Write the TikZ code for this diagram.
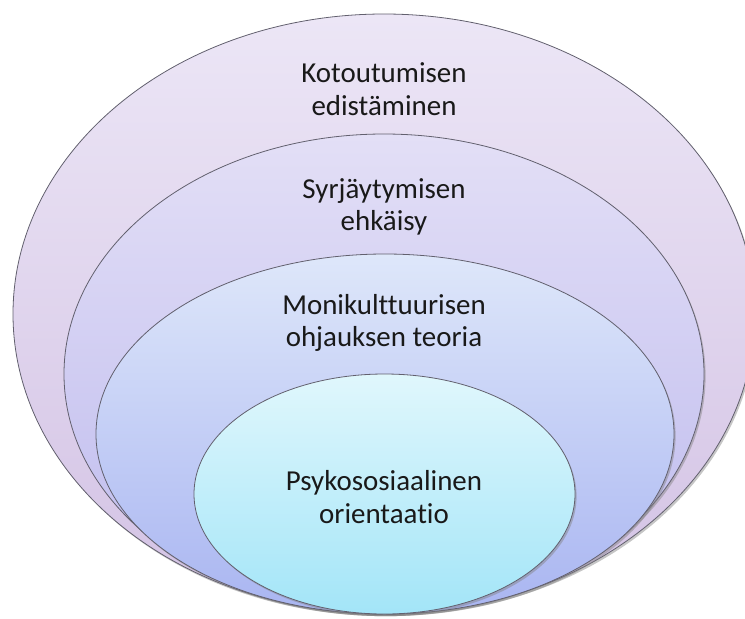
\documentclass[tikz,border=0pt]{standalone}
\usepackage{fontspec}
\setmainfont{Carlito}[Ligatures=NoCommon]
\usetikzlibrary{shapes.geometric,shadows,positioning}

\definecolor{ringline}{HTML}{62606E}
\definecolor{kotoTop}{HTML}{ECE6F6}
\definecolor{kotoBot}{HTML}{D3C2E4}
\definecolor{syrjTop}{HTML}{E3DFF6}
\definecolor{syrjBot}{HTML}{BDBAEE}
\definecolor{moniTop}{HTML}{DEE7FA}
\definecolor{moniBot}{HTML}{A9B5F1}
\definecolor{psykTop}{HTML}{E0F7FC}
\definecolor{psykBot}{HTML}{A3E5F8}

\begin{document}
\begin{tikzpicture}[
  x=0.75pt, y=-0.75pt,
  every node/.style={inner sep=0pt, outer sep=0pt},
  ring/.style n args={4}{ellipse, draw=ringline, line width=0.6pt,
    minimum width=#1*1.5pt, minimum height=#2*1.5pt,
    top color=#3, bottom color=#4,
    drop shadow={shadow xshift=1.2pt, shadow yshift=-1.6pt, opacity=0.45}},
  caption/.style={align=center, font=\fontsize{21.7}{24.3}\selectfont, text=black!90},
  ]
  \useasboundingbox (0,0) rectangle (745,618);
  \clip (0,0) rectangle (745,618);

  % nested rings, outermost first
  \node[ring={371}{300}{kotoTop}{kotoBot}] (koto) at (384,314) {};
  \node[ring={320}{240}{syrjTop}{syrjBot}] (syrj) at (384,374) {};
  \node[ring={289}{180}{moniTop}{moniBot}] (moni) at (385,434) {};
  \node[ring={190.5}{120}{psykTop}{psykBot}] (psyk) at (384.5,494) {};

  % captions
  \node[caption] (kotoText) at (384,89) {Kotoutumisen\\edistäminen};
  \node[caption] (syrjText) at (384,207) {Syrjäytymisen\\ehkäisy};
  \node[caption] (moniText) at (384,323) {Monikulttuurisen\\ohjauksen teoria};
  \node[caption] (psykText) at (384,497) {Psykososiaalinen\\orientaatio};
\end{tikzpicture}
\end{document}
